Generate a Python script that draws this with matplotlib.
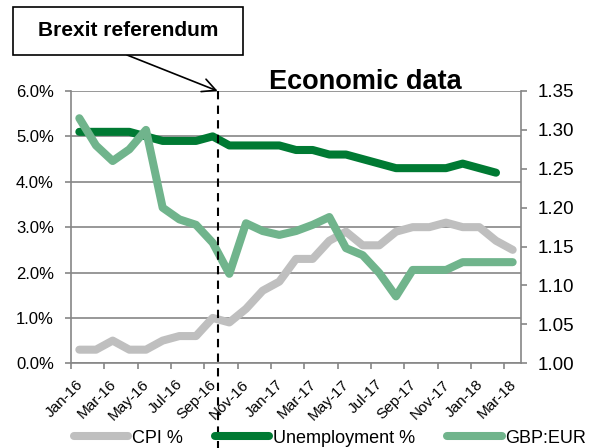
import numpy as np
import matplotlib
matplotlib.use("Agg")
import matplotlib.pyplot as plt
from matplotlib.patches import Rectangle
import matplotlib.transforms as mtransforms

plt.rcParams['font.family'] = ['Liberation Sans', 'DejaVu Sans']

months = ["Jan-16", "Feb-16", "Mar-16", "Apr-16", "May-16", "Jun-16", "Jul-16", "Aug-16", "Sep-16",
          "Oct-16", "Nov-16", "Dec-16", "Jan-17", "Feb-17", "Mar-17", "Apr-17", "May-17", "Jun-17",
          "Jul-17", "Aug-17", "Sep-17", "Oct-17", "Nov-17", "Dec-17", "Jan-18", "Feb-18", "Mar-18"]
cpi = [0.3, 0.3, 0.5, 0.3, 0.3, 0.5, 0.6, 0.6, 1.0, 0.9, 1.2, 1.6, 1.8, 2.3, 2.3, 2.7,
       2.9, 2.6, 2.6, 2.9, 3.0, 3.0, 3.1, 3.0, 3.0, 2.7, 2.5]
unemployment = [5.1, 5.1, 5.1, 5.1, 5.0, 4.9, 4.9, 4.9, 5.0, 4.8, 4.8, 4.8, 4.8, 4.7, 4.7, 4.6,
                4.6, 4.5, 4.4, 4.3, 4.3, 4.3, 4.3, 4.4, 4.3, 4.2, np.nan]
gbp_eur = [1.315, 1.28, 1.26, 1.275, 1.30, 1.20, 1.185, 1.178, 1.155, 1.115, 1.18, 1.17, 1.165,
           1.17, 1.178, 1.188, 1.148, 1.139, 1.116, 1.086, 1.12, 1.12, 1.12, 1.13, 1.13, 1.13, 1.13]
brexit_pos = 8.3  # where the dashed marker line sits on the category axis

c_cpi = "#BFBFBF"
c_unemp = "#007A33"
c_gbp = "#70B48C"
c_axis = "#868686"

fig = plt.figure(figsize=(5.92, 4.48), dpi=100)
ax = fig.add_axes([71/592, 1-363.3/448, 450/592, 272.3/448])
ax2 = ax.twinx()

x = np.arange(len(months))
lw = 5.8
l1, = ax.plot(x, cpi, color=c_cpi, lw=lw, solid_capstyle='round', solid_joinstyle='round', label="CPI %")
l2, = ax.plot(x, unemployment, color=c_unemp, lw=lw, solid_capstyle='round', solid_joinstyle='round', label="Unemployment %")
l3, = ax2.plot(x, gbp_eur, color=c_gbp, lw=lw, solid_capstyle='round', solid_joinstyle='round', label="GBP:EUR")

ax.set_xlim(-0.5, len(months) - 0.5)
ax.set_ylim(0, 6)
ax2.set_ylim(1.0, 1.35)
ax.set_yticks(np.arange(0, 6.01, 1))
ax.set_yticklabels([f"{v:.1f}%" for v in np.arange(0, 6.01, 1)], fontsize=12)
ax2.set_yticks(np.arange(1.0, 1.351, 0.05))
ax2.set_yticklabels([f"{v:.2f}" for v in np.arange(1.0, 1.351, 0.05)], fontsize=13.5)

ax.set_xticks(np.arange(-0.5, len(months), 2))
ax.set_xticklabels([])
ax.set_xticks(x[::2], minor=True)
ax.set_xticklabels(months[::2], minor=True, rotation=45, ha='right', va='top', fontsize=11)
ax.tick_params(axis='x', which='major', length=6*0.72, width=1.2, color=c_axis, direction='out')
ax.tick_params(axis='x', which='minor', length=0, pad=10)
ax.tick_params(axis='y', length=6*0.72, width=1.2, color=c_axis, pad=8)
ax2.tick_params(axis='y', length=6*0.72, width=1.2, color=c_axis, pad=8)
shift = mtransforms.ScaledTranslation(6/100, 0, fig.dpi_scale_trans)
for lab in ax.get_xticklabels(minor=True):
    lab.set_transform(lab.get_transform() + shift)

ax.grid(axis='y', color=c_axis, lw=1.2)
ax.set_axisbelow(True)
for a in (ax, ax2):
    a.spines['top'].set_visible(False)
    for s in ('left', 'right', 'bottom'):
        a.spines[s].set_color(c_axis)
        a.spines[s].set_linewidth(1.2)
ax.spines['right'].set_visible(False)
ax2.spines['left'].set_visible(False)
ax2.spines['bottom'].set_visible(False)

# dashed Brexit marker running down through the labels
trans = mtransforms.blended_transform_factory(ax.transData, ax.transAxes)
ax2.plot([brexit_pos, brexit_pos], [1.0, -0.32], transform=trans, color="black", lw=1.5,
         ls=(0, (4, 3)), clip_on=False, zorder=5)

fig.text(365/592, 1-89/448, "Economic data", fontsize=19.5, fontweight='bold',
         ha='center', va='baseline')

# annotation box + arrow
fig.patches.append(Rectangle((13/592, 1-55/448), 230/592, 48/448, transform=fig.transFigure,
                             facecolor='white', edgecolor='black', lw=1.2))
fig.text(128/592, 1-31/448, "Brexit referendum", fontsize=15, fontweight='bold',
         ha='center', va='center')
ax2.annotate("", xy=(brexit_pos, 1.0), xycoords=trans,
             xytext=(127/592, 1-55/448), textcoords='figure fraction',
             arrowprops=dict(arrowstyle='->', color='black', lw=1.2, mutation_scale=24,
                             shrinkA=0, shrinkB=0))

fig.legend(handles=[l1, l2, l3], loc='center', bbox_to_anchor=(330/592, 1-438/448),
           ncol=3, frameon=False, fontsize=13, handlelength=3.0, handletextpad=0.2,
           columnspacing=1.8, borderpad=0, borderaxespad=0)

fig.savefig("out.png", dpi=100)
